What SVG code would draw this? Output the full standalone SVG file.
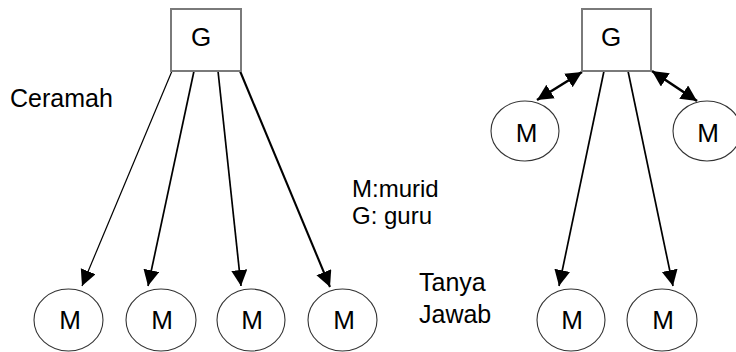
<svg xmlns="http://www.w3.org/2000/svg" width="736" height="352" viewBox="0 0 736 352">
  <style>
    text { font-family: "Liberation Sans", Arial, sans-serif; font-size: 25px; fill: #000; }
    .big { font-size: 26px; }
    .legend { font-size: 24px; }
    .box { fill: #fff; stroke: #7a7a7a; stroke-width: 2; }
    .node { fill: #fff; stroke: #333; stroke-width: 1.1; }
    .arrow { fill: none; stroke: #000; marker-end: url(#head); }
    .both { fill: none; stroke: #000; stroke-width: 2.6; marker-start: url(#head2); marker-end: url(#head2); }
  </style>
  <defs>
    <marker id="head" markerUnits="userSpaceOnUse" markerWidth="18" markerHeight="18" viewBox="0 0 18 18" refX="16" refY="8" orient="auto">
      <path d="M0,0 L16,8 L0,16 z" fill="#000"/>
    </marker>
    <marker id="head2" markerUnits="userSpaceOnUse" markerWidth="18" markerHeight="18" viewBox="0 0 18 18" refX="16" refY="8" orient="auto-start-reverse">
      <path d="M0,0 L16,8 L0,16 z" fill="#000"/>
    </marker>
  </defs>
  <rect width="736" height="352" fill="#fff"/>

  <!-- connectors -->
  <g id="connectors">
    <line class="arrow" x1="172" y1="71" x2="82" y2="286" stroke-width="1.2"/>
    <line class="arrow" x1="194" y1="71" x2="148" y2="286" stroke-width="1.7"/>
    <line class="arrow" x1="218" y1="71" x2="241" y2="286" stroke-width="1.7"/>
    <line class="arrow" x1="240" y1="71" x2="330" y2="287" stroke-width="2.1"/>
    <line class="arrow" x1="604" y1="71" x2="559" y2="286" stroke-width="1.7"/>
    <line class="arrow" x1="628" y1="71" x2="673" y2="286" stroke-width="1.7"/>
    <line class="both" x1="582" y1="72" x2="537" y2="100"/>
    <line class="both" x1="652" y1="71" x2="697" y2="101"/>
  </g>

  <!-- lecture side -->
  <g id="g-left">
    <rect class="box" x="171" y="9" width="70" height="62"/>
    <text class="big" x="201" y="46" text-anchor="middle">G</text>
  </g>
  <g id="m-left-1">
    <ellipse class="node" cx="68.5" cy="320" rx="34.5" ry="31"/>
    <text class="big" x="70" y="329" text-anchor="middle">M</text>
  </g>
  <g id="m-left-2">
    <ellipse class="node" cx="161" cy="320" rx="35" ry="31"/>
    <text class="big" x="162" y="329" text-anchor="middle">M</text>
  </g>
  <g id="m-left-3">
    <ellipse class="node" cx="251" cy="320" rx="34" ry="31"/>
    <text class="big" x="252" y="329" text-anchor="middle">M</text>
  </g>
  <g id="m-left-4">
    <ellipse class="node" cx="342.5" cy="320" rx="34.5" ry="31"/>
    <text class="big" x="344" y="329" text-anchor="middle">M</text>
  </g>

  <!-- question and answer side -->
  <g id="g-right">
    <rect class="box" x="582" y="9" width="69" height="62"/>
    <text class="big" x="611" y="46" text-anchor="middle">G</text>
  </g>
  <g id="m-right-top-1">
    <ellipse class="node" cx="525" cy="131" rx="34" ry="30"/>
    <text class="big" x="526.5" y="142" text-anchor="middle">M</text>
  </g>
  <g id="m-right-top-2">
    <ellipse class="node" cx="707" cy="131" rx="34" ry="30"/>
    <text class="big" x="708" y="142" text-anchor="middle">M</text>
  </g>
  <g id="m-right-1">
    <ellipse class="node" cx="571" cy="320" rx="34" ry="31"/>
    <text class="big" x="572" y="329" text-anchor="middle">M</text>
  </g>
  <g id="m-right-2">
    <ellipse class="node" cx="662" cy="320" rx="35" ry="31"/>
    <text class="big" x="663" y="329" text-anchor="middle">M</text>
  </g>

  <!-- labels -->
  <g id="labels">
    <text x="10" y="107">Ceramah</text>
    <text class="legend" x="352" y="197">M:murid</text>
    <text class="legend" x="352" y="224">G: guru</text>
    <text x="419" y="291">Tanya</text>
    <text x="419" y="323">Jawab</text>
  </g>
</svg>
